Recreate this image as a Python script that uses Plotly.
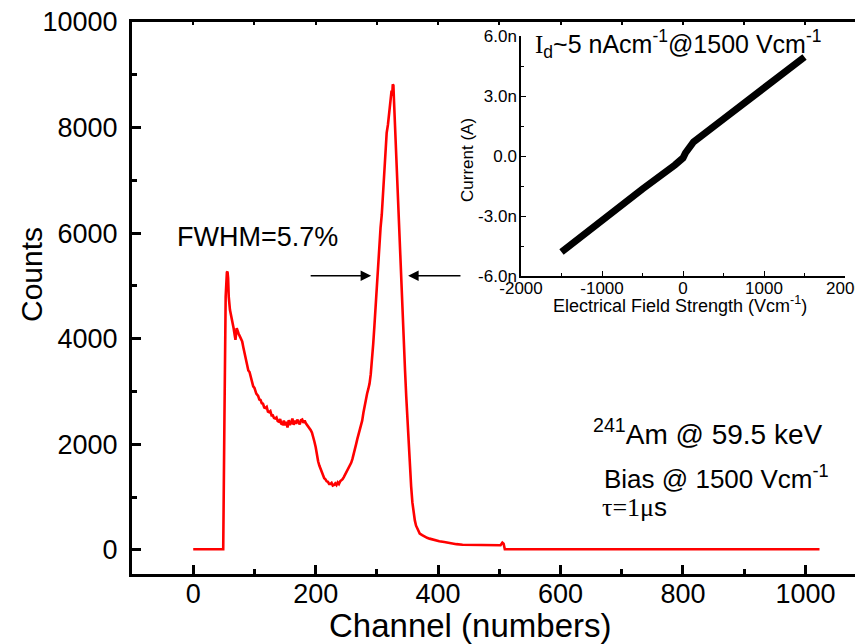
import plotly.graph_objects as go

# ---- main spectrum data: channel / counts (rows of 10, aligned) ----
channel = [0, 20, 40, 49, 51, 53, 55, 56, 57, 58,
           60, 62, 64, 66, 68, 69, 71, 72, 74, 76,
           78, 80, 82, 84, 86, 88, 90, 92, 94, 96,
           98, 100, 103, 106, 108, 110, 112, 114, 116, 118,
           120, 122, 124, 126, 128, 130, 132, 134, 136, 138,
           140, 142, 144, 146, 148, 150, 152, 154, 156, 158,
           160, 162, 164, 166, 168, 170, 172, 174, 176, 178,
           180, 182, 184, 186, 188, 190, 192, 194, 196, 198,
           200, 202, 204, 206, 208, 210, 212, 214, 216, 218,
           220, 222, 224, 226, 228, 230, 232, 234, 236, 238,
           240, 242, 244, 246, 248, 250, 252, 254, 256, 258,
           260, 262, 264, 266, 268, 270, 272, 274, 276, 278,
           280, 282, 284, 286, 288, 290, 292, 294, 296, 298,
           300, 302, 304, 306, 308, 310, 312, 314, 316, 318,
           320, 322, 324, 325, 326, 327, 328, 330, 332, 334,
           336, 338, 340, 342, 344, 346, 348, 350, 352, 354,
           356, 358, 360, 362, 364, 366, 368, 370, 374, 378,
           382, 386, 390, 396, 402, 410, 420, 430, 440, 450,
           460, 470, 480, 490, 498, 502, 505, 507, 509, 600,
           800, 1023]
counts = [15, 15, 15, 15, 2500, 4800, 5260, 5270, 5150, 4800,
          4550, 4450, 4300, 4200, 4050, 3980, 4200, 4150, 4100, 4050,
          4000, 3950, 3830, 3720, 3580, 3520, 3400, 3370, 3280, 3220,
          3100, 3070, 2960, 2920, 2850, 2840, 2780, 2770, 2700, 2690,
          2710, 2620, 2610, 2630, 2550, 2550, 2500, 2490, 2510, 2440,
          2430, 2480, 2390, 2380, 2450, 2360, 2430, 2320, 2460, 2370,
          2410, 2490, 2370, 2450, 2390, 2470, 2410, 2380, 2460, 2470,
          2410, 2450, 2400, 2370, 2340, 2290, 2270, 2220, 2150, 2050,
          1950, 1800, 1680, 1600, 1540, 1450, 1410, 1360, 1340, 1300,
          1290, 1250, 1250, 1270, 1220, 1230, 1260, 1230, 1280, 1250,
          1300, 1320, 1340, 1380, 1420, 1480, 1520, 1560, 1600, 1650,
          1720, 1800, 1900, 2000, 2100, 2180, 2250, 2350, 2450, 2600,
          2750, 2870, 2960, 3050, 3150, 3330, 3580, 3900, 4250, 4650,
          5050, 5450, 5800, 6100, 6350, 6800, 7200, 7600, 7900, 8050,
          8300, 8450, 8700, 8600, 8820, 8800, 8500, 7900, 7300, 6800,
          6300, 5750, 5250, 4500, 4000, 3400, 2900, 2400, 1950, 1550,
          1200, 900, 700, 560, 460, 400, 350, 310, 280, 250,
          230, 215, 200, 180, 165, 150, 125, 110, 100, 97,
          95, 92, 90, 85, 78, 90, 140, 120, 15, 15,
          15, 15]

# ---- inset I-V data ----
field = [-1500, -1000, -500, -100, -30, 0, 30, 60, 130, 500, 1000, 1500]
current = [-4.8e-9, -3.2e-9, -1.65e-9, -0.45e-9, -0.25e-9, -0.1e-9, 0.15e-9, 0.35e-9,
           0.7e-9, 1.85e-9, 3.4e-9, 4.95e-9]

main_xticks = [0, 200, 400, 600, 800, 1000]
main_xticktext = ["0", "200", "400", "600", "800", "1000"]
main_yticks = [0, 2000, 4000, 6000, 8000, 10000]
main_yticktext = ["0", "2000", "4000", "6000", "8000", "10000"]
inset_xticks = [-2000, -1000, 0, 1000, 2000]
inset_xticktext = ["-2000", "-1000", "0", "1000", "2000"]
inset_yticks = [-6e-9, -3e-9, 0, 3e-9, 6e-9]
inset_yticktext = ["-6.0n", "-3.0n", "0.0", "3.0n", "6.0n"]

SANS = "Liberation Sans, Arial, sans-serif"

fig = go.Figure()
fig.add_trace(go.Scatter(x=channel, y=counts, mode="lines",
                         line=dict(color="#ff0000", width=2.6), showlegend=False,
                         xaxis="x", yaxis="y"))
fig.add_trace(go.Scatter(x=[None], y=[None], mode="lines", showlegend=False,
                         xaxis="x3", yaxis="y"))
fig.add_trace(go.Scatter(x=field, y=current, mode="lines",
                         line=dict(color="black", width=7), showlegend=False,
                         xaxis="x2", yaxis="y2"))

W, H = 855, 644
L, R, T, B = 132, 0, 22, 70
pw, ph = W - L - R, H - T - B


def px(x):
    return (x - L) / pw


def py(y):
    return (H - B - y) / ph


fig.update_layout(
    width=W, height=H,
    margin=dict(l=L, r=R, t=T, b=B, autoexpand=False),
    paper_bgcolor="white", plot_bgcolor="white",
    font=dict(family=SANS, color="black"),
    xaxis=dict(range=[-100, 1081], tickvals=main_xticks, ticktext=main_xticktext,
               ticks="inside", ticklen=9, automargin=False,
               tickwidth=2.5, tickcolor="black", showline=True, linewidth=3,
               linecolor="black", mirror=True, showgrid=False, zeroline=False,
               tickfont=dict(size=27, family=SANS),
               minor=dict(dtick=100, ticks="inside", ticklen=5, tickwidth=2.5,
                          tickcolor="black", showgrid=False),
               ticklabelstandoff=-6, domain=[0, 1]),
    xaxis3=dict(range=[-100, 1081], overlaying="x", side="top", anchor="y",
                tickvals=list(range(0, 1100, 100)), ticks="inside", ticklen=3,
                tickwidth=1.5, tickcolor="black", showticklabels=False,
                automargin=False,
                showline=False, showgrid=False, zeroline=False),
    yaxis=dict(range=[-455, 10000], tickvals=main_yticks, ticktext=main_yticktext,
               ticks="inside", ticklen=9, automargin=False,
               tickwidth=2.5, tickcolor="black", showline=True, linewidth=3,
               linecolor="black", mirror=True, showgrid=False, zeroline=False,
               tickfont=dict(size=27, family=SANS),
               minor=dict(dtick=1000, ticks="inside", ticklen=5, tickwidth=2.5,
                          tickcolor="black", showgrid=False),
               ticklabelstandoff=6),
    xaxis2=dict(domain=[px(521), px(845)], anchor="y2", range=[-2000, 2000],
                tickvals=inset_xticks, ticktext=inset_xticktext, ticks="inside",
                ticklen=5, tickwidth=1.2, automargin=False,
                tickcolor="black", showline=True, linewidth=1.5, linecolor="black",
                showgrid=False, zeroline=False, tickfont=dict(size=17, family=SANS),
                minor=dict(dtick=500, ticks="inside", ticklen=3, tickwidth=1.2,
                           tickcolor="black", showgrid=False),
                ticklabelstandoff=-4, ticklabeloverflow="allow"),
    yaxis2=dict(domain=[py(276), py(36)], anchor="x2", range=[-6e-9, 6e-9],
                tickvals=inset_yticks, ticktext=inset_yticktext, ticks="inside",
                ticklen=5, tickwidth=1.2, tickcolor="black", showline=True,
                linewidth=1.5, linecolor="black", showgrid=False, zeroline=False,
                tickfont=dict(size=17, family=SANS), automargin=False,
                minor=dict(dtick=1.5e-9, ticks="inside", ticklen=3, tickwidth=1.2,
                           tickcolor="black", showgrid=False),
                ticklabelstandoff=-1),
)


def note(text, x, y, size, xanchor="center", angle=0):
    return dict(text=text, x=px(x), y=py(y), xref="paper", yref="paper",
                xanchor=xanchor, yanchor="middle", textangle=angle,
                showarrow=False, font=dict(size=size, family=SANS))


ann = [
    note("Counts", 31, 275, 30, angle=-90),
    note("Channel (numbers)", 470, 625, 33),
    note("Current (A)", 467, 160, 17, angle=-90),
    note("Electrical Field Strength (Vcm<sup>-1</sup>)", 680, 304, 18),
    note("FWHM=5.7%", 175, 237, 27, xanchor="left"),
    note("<sup>241</sup>Am @ 59.5 keV", 591, 432, 28, xanchor="left"),
    note("Bias @ 1500 Vcm<sup>-1</sup>", 602, 477, 26, xanchor="left"),
    note("<span style='font-family:Liberation Serif'>τ=1μ</span>s", 600, 507, 26,
         xanchor="left"),
    note("<span style='font-family:Liberation Serif'>I</span><sub>d</sub>~5 nAcm<sup>-1</sup>@1500 Vcm<sup>-1</sup>",
         533, 44, 25, xanchor="left"),
]
# FWHM arrows
ann.append(dict(text="", x=290.6, y=5194, ax=189.4, ay=5194, xref="x", yref="y",
                axref="x", ayref="y", showarrow=True, arrowhead=2, arrowsize=1.4,
                arrowwidth=1.5, arrowcolor="black", standoff=0))
ann.append(dict(text="", x=351, y=5194, ax=439, ay=5194, xref="x", yref="y",
                axref="x", ayref="y", showarrow=True, arrowhead=2, arrowsize=1.4,
                arrowwidth=1.5, arrowcolor="black", standoff=0))
fig.update_layout(annotations=ann)

fig.write_html("out.html", config={"displayModeBar": False},
               post_script="document.body.style.margin='0';")
